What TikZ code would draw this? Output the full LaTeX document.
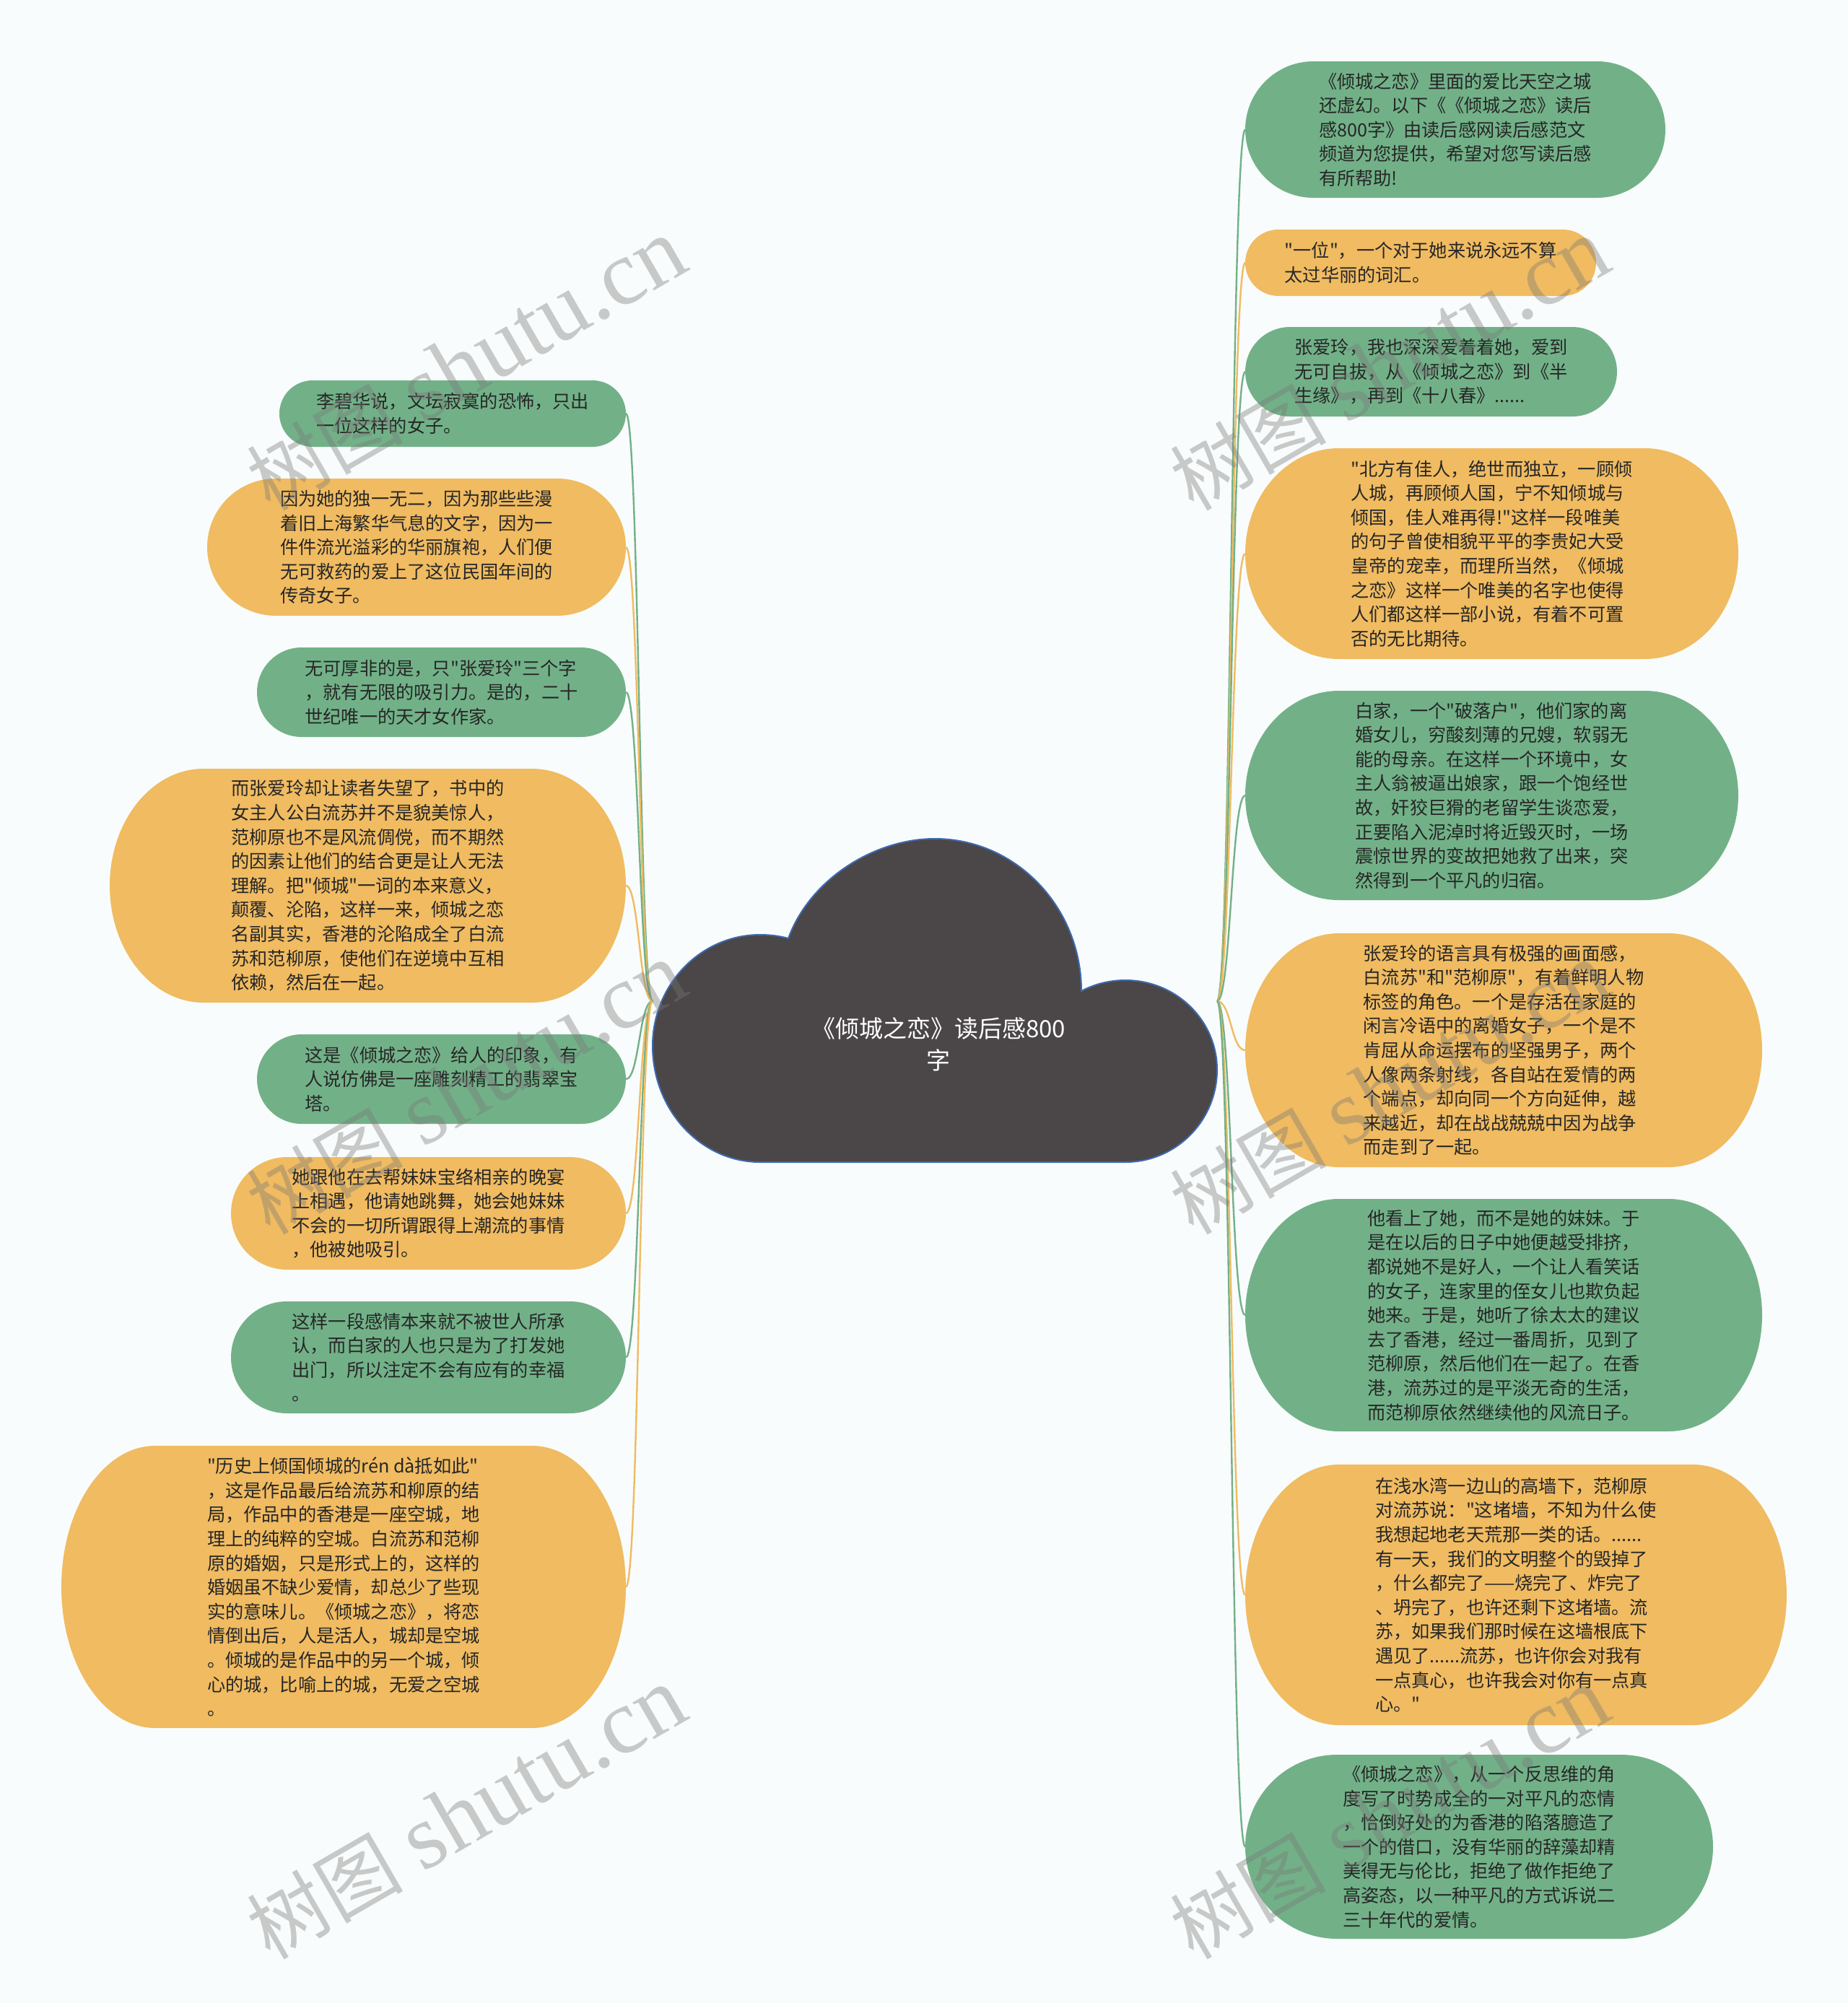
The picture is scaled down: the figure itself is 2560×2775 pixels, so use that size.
\documentclass[tikz,border=0pt]{standalone}
\usepackage{fontspec}
\newfontfamily\cjk{Noto Sans CJK SC}
\newfontfamily\wmserif{Liberation Serif}
\usetikzlibrary{calc}
\definecolor{grn}{RGB}{114,177,136}
\definecolor{org}{RGB}{240,187,97}
\definecolor{txtcol}{RGB}{38,38,38}
\definecolor{cloudfill}{RGB}{75,70,71}
\definecolor{cloudline}{RGB}{62,106,176}
\definecolor{bgcol}{RGB}{249,252,252}
\definecolor{wm}{RGB}{120,120,120}
\pgfdeclarelayer{back}
\pgfdeclarelayer{bg}
\pgfdeclarelayer{fg}
\pgfsetlayers{back,bg,main,fg}
\newcommand\pillfill[2]{%
 \fill[#2] let \p1=(#1.south west), \p2=(#1.north east),
   \n1={min(65,(\y2-\y1)/2)}, \n2={(\y2-\y1)/2} in
   (\x1+\n1,\y1) -- (\x2-\n1,\y1)
   .. controls (\x2-0.4477*\n1,\y1) and (\x2,\y1+0.4477*\n2) .. (\x2,\y1+\n2)
   .. controls (\x2,\y2-0.4477*\n2) and (\x2-0.4477*\n1,\y2) .. (\x2-\n1,\y2)
   -- (\x1+\n1,\y2)
   .. controls (\x1+0.4477*\n1,\y2) and (\x1,\y2-0.4477*\n2) .. (\x1,\y2-\n2)
   .. controls (\x1,\y1+0.4477*\n2) and (\x1+0.4477*\n1,\y1) .. (\x1+\n1,\y1) -- cycle;}
\begin{document}
\begin{tikzpicture}[x=0.5pt,y=-0.5pt,
  box/.style={rectangle, inner sep=0pt, outer sep=0pt, align=left, text=txtcol, font=\cjk\fontsize{12.6pt}{16.8pt}\selectfont},
  sz/.style 2 args={minimum width={#1*0.5pt}, minimum height={#2*0.5pt}},
  lnG/.style={draw=grn, line width=1.2pt},
  lnO/.style={draw=org, line width=1.2pt},
  rlink/.style={out=0, in=180, out distance=9.75pt, in distance=9.75pt},
  llink/.style={out=180, in=0, out distance=9.25pt, in distance=9.25pt},
  wmk/.style={rotate=30, text=wm, text opacity=0.38, inner sep=0pt},
  roottxt/.style={align=center, text=white, inner sep=0pt, font=\cjk\fontsize{16.5pt}{22pt}\selectfont},
]
\begin{pgfonlayer}{back}
\fill[bgcol] (0,0) rectangle (2560,2775);
\end{pgfonlayer}
\useasboundingbox (0,0) rectangle (2560,2775);

% central cloud
\filldraw[fill=cloudfill, draw=cloudline, line width=1pt]
 (1053,1610) .. controls (970.7,1610) and (904,1537.9) .. (904,1449)
 .. controls (904,1364) and (970.7,1295) .. (1053,1295)
 .. controls (1068,1295) and (1081,1297) .. (1092,1300)
 .. controls (1122,1218) and (1211,1162) .. (1295,1162)
 .. controls (1407,1162) and (1498,1256.5) .. (1498,1373)
 .. controls (1516.7,1363) and (1537.7,1358) .. (1559,1358)
 .. controls (1629,1358) and (1686,1413.5) .. (1686,1482)
 .. controls (1686,1552.7) and (1629,1610) .. (1559,1610)
 -- cycle;
\node[roottxt] (root) at (1300,1447) {《倾城之恋》读后感800\\字};
\coordinate (rootw) at (904,1387);
\coordinate (roote) at (1686,1387);

% right nodes
\node[box, sz={582}{189}] (r1) at (2016,179.5) {《倾城之恋》里面的爱比天空之城\\还虚幻。以下《《倾城之恋》读后\\感800字》由读后感网读后感范文\\频道为您提供，希望对您写读后感\\有所帮助!};
\node[box, sz={486}{92}] (r2) at (1968,364) {"一位"，一个对于她来说永远不算\\太过华丽的词汇。};
\node[box, sz={515}{124}] (r3) at (1982.5,515) {张爱玲，我也深深爱着着她，爱到\\无可自拔，从《倾城之恋》到《半\\生缘》，再到《十八春》......};
\node[box, sz={683}{292}] (r4) at (2066.5,767) {"北方有佳人，绝世而独立，一顾倾\\人城，再顾倾人国，宁不知倾城与\\倾国，佳人难再得!"这样一段唯美\\的句子曾使相貌平平的李贵妃大受\\皇帝的宠幸，而理所当然，《倾城\\之恋》这样一个唯美的名字也使得\\人们都这样一部小说，有着不可置\\否的无比期待。};
\node[box, sz={683}{290}] (r5) at (2066.5,1102) {白家，一个"破落户"，他们家的离\\婚女儿，穷酸刻薄的兄嫂，软弱无\\能的母亲。在这样一个环境中，女\\主人翁被逼出娘家，跟一个饱经世\\故，奸狡巨猾的老留学生谈恋爱，\\正要陷入泥淖时将近毁灭时，一场\\震惊世界的变故把她救了出来，突\\然得到一个平凡的归宿。};
\node[box, sz={716}{324}] (r6) at (2083,1455) {张爱玲的语言具有极强的画面感，\\白流苏"和"范柳原"，有着鲜明人物\\标签的角色。一个是存活在家庭的\\闲言冷语中的离婚女子，一个是不\\肯屈从命运摆布的坚强男子，两个\\人像两条射线，各自站在爱情的两\\个端点，却向同一个方向延伸，越\\来越近，却在战战兢兢中因为战争\\而走到了一起。};
\node[box, sz={716}{322}] (r7) at (2083,1822) {他看上了她，而不是她的妹妹。于\\是在以后的日子中她便越受排挤，\\都说她不是好人，一个让人看笑话\\的女子，连家里的侄女儿也欺负起\\她来。于是，她听了徐太太的建议\\去了香港，经过一番周折，见到了\\范柳原，然后他们在一起了。在香\\港，流苏过的是平淡无奇的生活，\\而范柳原依然继续他的风流日子。};
\node[box, sz={750}{361}] (r8) at (2100,2209.5) {在浅水湾一边山的高墙下，范柳原\\对流苏说："这堵墙，不知为什么使\\我想起地老天荒那一类的话。......\\有一天，我们的文明整个的毁掉了\\，什么都完了——烧完了、炸完了\\、坍完了，也许还剩下这堵墙。流\\苏，如果我们那时候在这墙根底下\\遇见了......流苏，也许你会对我有\\一点真心，也许我会对你有一点真\\心。"};
\node[box, sz={648}{255}] (r9) at (2049,2558.5) {《倾城之恋》，从一个反思维的角\\度写了时势成全的一对平凡的恋情\\，恰倒好处的为香港的陷落臆造了\\一个的借口，没有华丽的辞藻却精\\美得无与伦比，拒绝了做作拒绝了\\高姿态，以一种平凡的方式诉说二\\三十年代的爱情。};

% left nodes
\node[box, sz={480}{92}] (l1) at (627,573) {李碧华说，文坛寂寞的恐怖，只出\\一位这样的女子。};
\node[box, sz={580}{190}] (l2) at (577,758) {因为她的独一无二，因为那些些漫\\着旧上海繁华气息的文字，因为一\\件件流光溢彩的华丽旗袍，人们便\\无可救药的爱上了这位民国年间的\\传奇女子。};
\node[box, sz={511}{124}] (l3) at (611.5,959) {无可厚非的是，只"张爱玲"三个字\\，就有无限的吸引力。是的，二十\\世纪唯一的天才女作家。};
\node[box, sz={715}{324}] (l4) at (509.5,1227) {而张爱玲却让读者失望了，书中的\\女主人公白流苏并不是貌美惊人，\\范柳原也不是风流倜傥，而不期然\\的因素让他们的结合更是让人无法\\理解。把"倾城"一词的本来意义，\\颠覆、沦陷，这样一来，倾城之恋\\名副其实，香港的沦陷成全了白流\\苏和范柳原，使他们在逆境中互相\\依赖，然后在一起。};
\node[box, sz={511}{124}] (l5) at (611.5,1495) {这是《倾城之恋》给人的印象，有\\人说仿佛是一座雕刻精工的翡翠宝\\塔。};
\node[box, sz={547}{156}] (l6) at (593.5,1681) {她跟他在去帮妹妹宝络相亲的晚宴\\上相遇，他请她跳舞，她会她妹妹\\不会的一切所谓跟得上潮流的事情\\，他被她吸引。};
\node[box, sz={547}{155}] (l7) at (593.5,1880.5) {这样一段感情本来就不被世人所承\\认，而白家的人也只是为了打发她\\出门，所以注定不会有应有的幸福\\。};
\node[box, sz={782}{391}] (l8) at (476,2198.5) {"历史上倾国倾城的rén dà抵如此"\\，这是作品最后给流苏和柳原的结\\局，作品中的香港是一座空城，地\\理上的纯粹的空城。白流苏和范柳\\原的婚姻，只是形式上的，这样的\\婚姻虽不缺少爱情，却总少了些现\\实的意味儿。《倾城之恋》，将恋\\情倒出后，人是活人，城却是空城\\。倾城的是作品中的另一个城，倾\\心的城，比喻上的城，无爱之空城\\。};

\begin{pgfonlayer}{bg}
\draw[lnG] (roote) to[rlink] (r1.west);
\draw[lnO] (roote) to[rlink] (r2.west);
\draw[lnG] (roote) to[rlink] (r3.west);
\draw[lnO] (roote) to[rlink] (r4.west);
\draw[lnG] (roote) to[rlink] (r5.west);
\draw[lnO] (roote) to[rlink] (r6.west);
\draw[lnG] (roote) to[rlink] (r7.west);
\draw[lnO] (roote) to[rlink] (r8.west);
\draw[lnG] (roote) to[rlink] (r9.west);
\draw[lnG] (rootw) to[llink] (l1.east);
\draw[lnO] (rootw) to[llink] (l2.east);
\draw[lnG] (rootw) to[llink] (l3.east);
\draw[lnO] (rootw) to[llink] (l4.east);
\draw[lnG] (rootw) to[llink] (l5.east);
\draw[lnO] (rootw) to[llink] (l6.east);
\draw[lnG] (rootw) to[llink] (l7.east);
\draw[lnO] (rootw) to[llink] (l8.east);
\pillfill{r1}{grn}
\pillfill{r2}{org}
\pillfill{r3}{grn}
\pillfill{r4}{org}
\pillfill{r5}{grn}
\pillfill{r6}{org}
\pillfill{r7}{grn}
\pillfill{r8}{org}
\pillfill{r9}{grn}
\pillfill{l1}{grn}
\pillfill{l2}{org}
\pillfill{l3}{grn}
\pillfill{l4}{org}
\pillfill{l5}{grn}
\pillfill{l6}{org}
\pillfill{l7}{grn}
\pillfill{l8}{org}
\end{pgfonlayer}

\begin{pgfonlayer}{fg}
\node[wmk] (w1) at (646,505) {{\cjk\fontsize{54pt}{60pt}\selectfont 树图}\hspace{14pt}{\wmserif\fontsize{64pt}{70pt}\selectfont shutu.cn}};
\node[wmk] (w2) at (1925,505) {{\cjk\fontsize{54pt}{60pt}\selectfont 树图}\hspace{14pt}{\wmserif\fontsize{64pt}{70pt}\selectfont shutu.cn}};
\node[wmk] (w3) at (646,1508) {{\cjk\fontsize{54pt}{60pt}\selectfont 树图}\hspace{14pt}{\wmserif\fontsize{64pt}{70pt}\selectfont shutu.cn}};
\node[wmk] (w4) at (1925,1508) {{\cjk\fontsize{54pt}{60pt}\selectfont 树图}\hspace{14pt}{\wmserif\fontsize{64pt}{70pt}\selectfont shutu.cn}};
\node[wmk] (w5) at (646,2512) {{\cjk\fontsize{54pt}{60pt}\selectfont 树图}\hspace{14pt}{\wmserif\fontsize{64pt}{70pt}\selectfont shutu.cn}};
\node[wmk] (w6) at (1925,2512) {{\cjk\fontsize{54pt}{60pt}\selectfont 树图}\hspace{14pt}{\wmserif\fontsize{64pt}{70pt}\selectfont shutu.cn}};
\end{pgfonlayer}
\end{tikzpicture}
\end{document}
